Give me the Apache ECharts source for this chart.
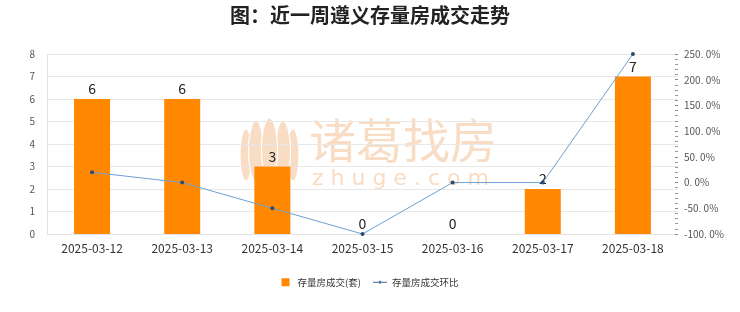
<!DOCTYPE html>
<html>
<head>
<meta charset="utf-8">
<style>
  html, body { margin: 0; padding: 0; background: #ffffff; }
  #chart { width: 740px; height: 312px; }
</style>
<script src="https://cdn.jsdelivr.net/npm/echarts@6/dist/echarts.min.js"></script>
</head>
<body>
<div id="chart"></div>
<script>
// Weekly second-hand housing deals in Zunyi
const dates = ['2025-03-12', '2025-03-13', '2025-03-14', '2025-03-15', '2025-03-16', '2025-03-17', '2025-03-18'];
const deals = [6, 6, 3, 0, 0, 2, 7];
const dealChangePct = [20, 0, -50, -100, 0, 0, 250];
const leftTicks = { min: 0, max: 8, interval: 1 };
const rightTicks = { min: -100, max: 250, interval: 50 };

const chart = echarts.init(document.getElementById('chart'), null, { renderer: 'canvas' });
const font = '"Noto Sans CJK SC", "Noto Sans", sans-serif';
const wm = '#f9dcc4';

// lotus-style petals for the brand mark behind the plot (outer first, centre on top)
const petalSpecs = [
  { cx: 246, cy: 155, rx: 6, ry: 26 },
  { cx: 293, cy: 155, rx: 6, ry: 26 },
  { cx: 256, cy: 151, rx: 7.5, ry: 30 },
  { cx: 283, cy: 151, rx: 7.5, ry: 30 },
  { cx: 269.5, cy: 149, rx: 8, ry: 31 }
];
const petals = petalSpecs.map(p => ({
  type: 'ellipse', silent: true, z: -10,
  shape: { cx: p.cx, cy: p.cy, rx: p.rx, ry: p.ry },
  style: { fill: wm, stroke: '#ffffff', lineWidth: 1.2 }
}));

chart.setOption({
  animation: false,
  backgroundColor: '#ffffff',
  title: {
    text: '图：近一周遵义存量房成交走势',
    left: 'center', top: 0,
    textStyle: { fontFamily: font, fontSize: 20, fontWeight: 'bold', color: '#222' }
  },
  graphic: petals.concat([
    {
      type: 'text', silent: true, z: -10, left: 309, top: 117,
      style: { text: '诸葛找房', font: '47px ' + font, fill: wm }
    },
    {
      type: 'text', silent: true, z: -10, left: 312, top: 168,
      style: { text: 'z h u g e . c o m', font: '22px "DejaVu Sans", sans-serif', fill: wm }
    }
  ]),
  legend: {
    bottom: 20, left: 'center',
    itemGap: 12,
    itemWidth: 14, itemHeight: 8,
    textStyle: { fontFamily: font, fontSize: 9.5, color: '#333' },
    data: [
      { name: '存量房成交(套)', icon: 'path://M0,0 H10 V10 H0 Z' },
      {
        name: '存量房成交环比',
        icon: 'path://M0,4.6 H14 V5.4 H0 Z M7,3.3 L8.7,5 L7,6.7 L5.3,5 Z',
        itemStyle: { color: '#3d6798' }
      }
    ]
  },
  grid: { left: 47, right: 62, top: 54, bottom: 78 },
  xAxis: {
    type: 'category',
    data: dates,
    axisLine: { show: true, lineStyle: { color: '#e3e3e3' } },
    axisTick: { show: false },
    axisLabel: { fontFamily: font, fontSize: 12, color: '#333', margin: 8 }
  },
  yAxis: [
    {
      type: 'value', min: leftTicks.min, max: leftTicks.max, interval: leftTicks.interval,
      axisLine: { show: true, lineStyle: { color: '#e3e3e3' } },
      axisTick: { show: false },
      axisLabel: { fontFamily: font, fontSize: 10, color: '#555', margin: 12 },
      splitLine: { lineStyle: { color: '#e8e8e8' } }
    },
    {
      type: 'value', min: rightTicks.min, max: rightTicks.max, interval: rightTicks.interval,
      position: 'right',
      axisLine: { show: false },
      axisTick: { show: true, inside: true, length: 3, lineStyle: { color: '#888' } },
      minorTick: { show: true, splitNumber: 5, length: 3, lineStyle: { color: '#999' } },
      axisLabel: {
        fontFamily: font, fontSize: 10, color: '#555', margin: 6,
        formatter: v => v.toFixed(1).replace('.', '. ') + '%'
      },
      splitLine: { show: false }
    }
  ],
  series: [
    {
      name: '存量房成交(套)',
      type: 'bar',
      data: deals,
      barWidth: 36,
      itemStyle: { color: '#ff8800' },
      label: { show: true, position: 'top', distance: 3, fontFamily: font, fontSize: 14, color: '#222' },
      z: 2
    },
    {
      name: '存量房成交环比',
      type: 'line',
      yAxisIndex: 1,
      data: dealChangePct,
      symbol: 'circle',
      symbolSize: 4,
      lineStyle: { color: '#6d9fd3', width: 1 },
      itemStyle: { color: '#2b4a74' },
      z: 3
    }
  ]
});
</script>
</body>
</html>
